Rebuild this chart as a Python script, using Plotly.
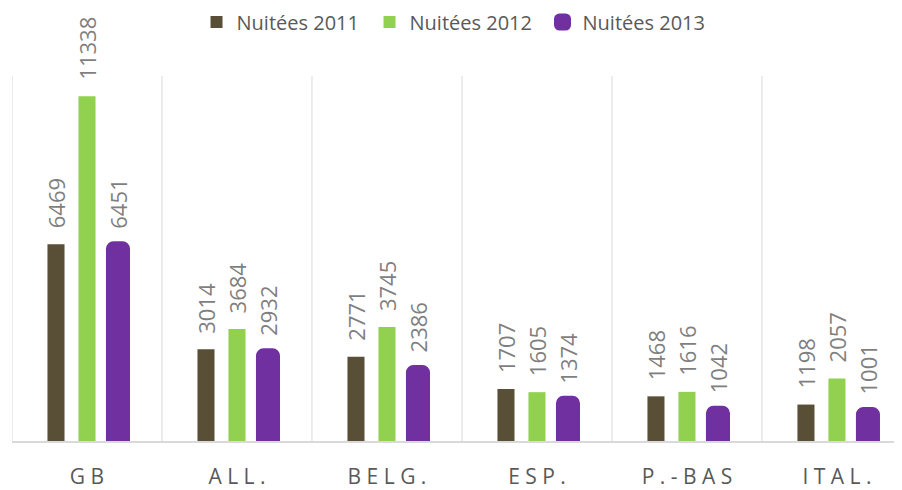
import plotly.graph_objects as go

categories = ["GB", "ALL.", "BELG.", "ESP.", "P.-BAS", "ITAL."]
series_names = ["Nuitées 2011", "Nuitées 2012", "Nuitées 2013"]
nuitees_2011 = [6469, 3014, 2771, 1707, 1468, 1198]
nuitees_2012 = [11338, 3684, 3745, 1605, 1616, 2057]
nuitees_2013 = [6451, 2932, 2386, 1374, 1042, 1001]

colors = ["#594f37", "#92d050", "#7030a0"]
series = [nuitees_2011, nuitees_2012, nuitees_2013]

SP = " "
tick_labels = [SP.join(list(c)) for c in categories]

bargap = 0.38
slot = (1 - bargap) / 3

fig = go.Figure()
for k, (name, vals, col) in enumerate(zip(series_names, series, colors)):
    if k == 2:
        mk = dict(color=col, line=dict(color=col, width=7), cornerradius=4)
    else:
        mk = dict(color=col, line=dict(width=0))
    fig.add_trace(go.Bar(x=list(range(len(categories))), y=vals, name=name,
                         marker=mk, hoverinfo="skip"))

annotations = []
for k, vals in enumerate(series):
    for i, v in enumerate(vals):
        annotations.append(dict(
            x=i + (k - 1) * slot, y=v, xref="x", yref="y",
            text=str(v), textangle=-90, showarrow=False,
            xanchor="center", yanchor="bottom", yshift=15, borderpad=0,
            font=dict(family="Open Sans", size=22, color="#7f7f7f"),
        ))

fig.update_layout(
    width=902, height=490,
    margin=dict(l=4, r=0, t=68, b=57),
    paper_bgcolor="white", plot_bgcolor="white",
    barmode="group", bargap=bargap, bargroupgap=0.45,
    font=dict(family="Open Sans", color="#595959"),
    legend=dict(orientation="h", xref="container", yref="container",
                x=0.4967, xanchor="center", y=0.9714, yanchor="middle",
                entrywidth=128,
                font=dict(size=20, color="#595959"), itemclick=False),
    annotations=annotations,
    xaxis=dict(
        tickmode="array", tickvals=list(range(len(categories))), ticktext=tick_labels,
        range=[-0.5, 5.487], showgrid=False,
        showline=True, linecolor="#d9d9d9", linewidth=2,
        ticks="", ticklen=0, ticklabelstandoff=16,
        tickfont=dict(size=21, color="#595959"),
        zeroline=False, fixedrange=True,
    ),
    yaxis=dict(range=[0, 12000], showticklabels=False, showgrid=False,
               zeroline=False, showline=False, fixedrange=True),
)

for b in range(len(categories)):
    fig.add_shape(type="line", xref="x", yref="paper", x0=b - 0.5, x1=b - 0.5,
                  y0=0, y1=1, line=dict(color="#d9d9d9", width=1), layer="below")

fig.write_html("out.html")
